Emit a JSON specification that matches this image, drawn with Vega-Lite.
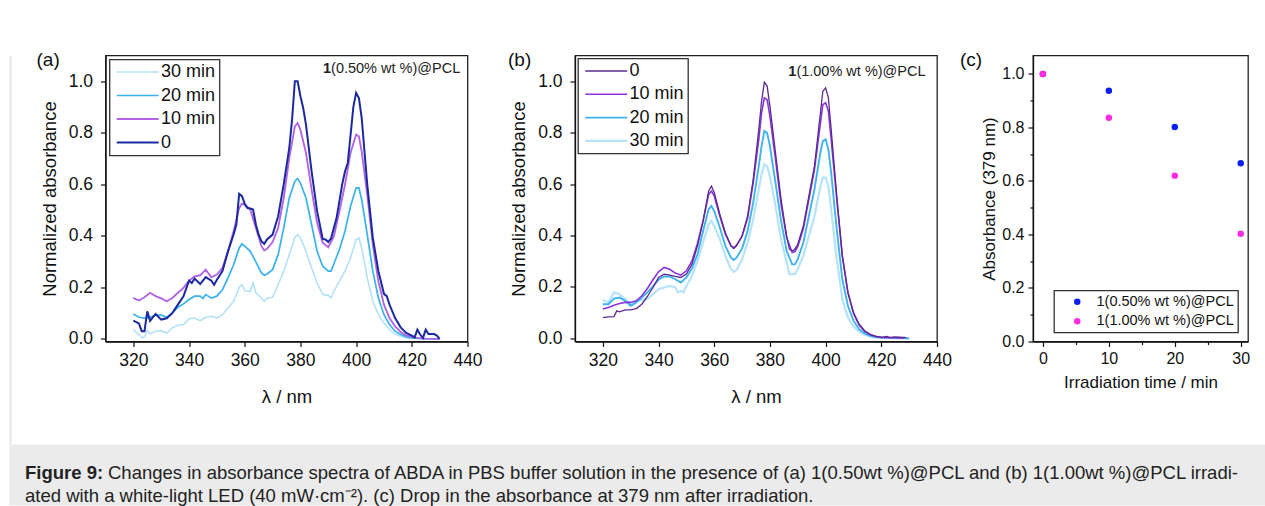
{
"$schema": "https://vega.github.io/schema/vega-lite/v6.json",
"background": "white",
"padding": {"left": 8.5, "top": 49.5, "right": 0, "bottom": 0},
"config": {
 "font": "Liberation Sans",
 "view": {"stroke": "#222", "strokeWidth": 1.3},
 "axis": {"grid": false, "domainColor": "#111", "domainWidth": 1.3, "tickColor": "#111", "tickWidth": 1.2, "labelColor": "#111", "titleColor": "#111", "labelFont": "Liberation Sans", "titleFont": "Liberation Sans", "titleFontWeight": "normal", "labelFlush": false, "labelOverlap": false},
 "title": {"fontWeight": "normal", "font": "Liberation Sans", "fontSize": 19, "color": "#111", "anchor": "start", "frame": "group"},
 "legend": {"title": null, "strokeColor": "#333", "strokeWidth": 1.3, "fillColor": "white", "labelFont": "Liberation Sans", "labelColor": "#111"}
},
"datasets": {
 "a": [
{"w":320,"t":"30 min","v":0.036},{"w":322,"t":"30 min","v":0.017},{"w":323,"t":"30 min","v":0.004},{"w":324,"t":"30 min","v":0.008},{"w":325,"t":"30 min","v":0.032},{"w":326,"t":"30 min","v":0.019},{"w":328,"t":"30 min","v":0.03},{"w":330,"t":"30 min","v":0.032},{"w":332,"t":"30 min","v":0.023},{"w":334,"t":"30 min","v":0.043},{"w":336,"t":"30 min","v":0.053},{"w":338,"t":"30 min","v":0.056},{"w":340,"t":"30 min","v":0.078},{"w":342,"t":"30 min","v":0.081},{"w":344,"t":"30 min","v":0.071},{"w":346,"t":"30 min","v":0.084},{"w":348,"t":"30 min","v":0.088},{"w":350,"t":"30 min","v":0.081},{"w":352,"t":"30 min","v":0.094},{"w":354,"t":"30 min","v":0.12},{"w":356,"t":"30 min","v":0.146},{"w":358,"t":"30 min","v":0.2},{"w":359,"t":"30 min","v":0.211},{"w":360,"t":"30 min","v":0.188},{"w":362,"t":"30 min","v":0.185},{"w":363,"t":"30 min","v":0.217},{"w":364,"t":"30 min","v":0.179},{"w":366,"t":"30 min","v":0.159},{"w":367,"t":"30 min","v":0.146},{"w":368,"t":"30 min","v":0.157},{"w":370,"t":"30 min","v":0.162},{"w":372,"t":"30 min","v":0.211},{"w":374,"t":"30 min","v":0.263},{"w":376,"t":"30 min","v":0.327},{"w":378,"t":"30 min","v":0.395},{"w":379,"t":"30 min","v":0.405},{"w":380,"t":"30 min","v":0.392},{"w":382,"t":"30 min","v":0.34},{"w":384,"t":"30 min","v":0.276},{"w":386,"t":"30 min","v":0.217},{"w":388,"t":"30 min","v":0.172},{"w":390,"t":"30 min","v":0.169},{"w":391,"t":"30 min","v":0.159},{"w":392,"t":"30 min","v":0.185},{"w":394,"t":"30 min","v":0.224},{"w":396,"t":"30 min","v":0.263},{"w":398,"t":"30 min","v":0.314},{"w":400,"t":"30 min","v":0.386},{"w":401,"t":"30 min","v":0.392},{"w":402,"t":"30 min","v":0.353},{"w":404,"t":"30 min","v":0.237},{"w":406,"t":"30 min","v":0.146},{"w":408,"t":"30 min","v":0.094},{"w":410,"t":"30 min","v":0.062},{"w":412,"t":"30 min","v":0.036},{"w":414,"t":"30 min","v":0.019},{"w":416,"t":"30 min","v":0.01},{"w":418,"t":"30 min","v":0.005},{"w":420,"t":"30 min","v":0.003},{"w":424,"t":"30 min","v":0.001},{"w":430,"t":"30 min","v":0},
{"w":320,"t":"20 min","v":0.097},{"w":322,"t":"20 min","v":0.084},{"w":324,"t":"20 min","v":0.081},{"w":326,"t":"20 min","v":0.084},{"w":328,"t":"20 min","v":0.092},{"w":330,"t":"20 min","v":0.092},{"w":332,"t":"20 min","v":0.084},{"w":334,"t":"20 min","v":0.101},{"w":336,"t":"20 min","v":0.123},{"w":338,"t":"20 min","v":0.136},{"w":340,"t":"20 min","v":0.153},{"w":342,"t":"20 min","v":0.166},{"w":344,"t":"20 min","v":0.166},{"w":345,"t":"20 min","v":0.157},{"w":346,"t":"20 min","v":0.172},{"w":348,"t":"20 min","v":0.159},{"w":350,"t":"20 min","v":0.166},{"w":352,"t":"20 min","v":0.191},{"w":354,"t":"20 min","v":0.237},{"w":356,"t":"20 min","v":0.288},{"w":358,"t":"20 min","v":0.353},{"w":359,"t":"20 min","v":0.369},{"w":360,"t":"20 min","v":0.36},{"w":362,"t":"20 min","v":0.34},{"w":364,"t":"20 min","v":0.299},{"w":366,"t":"20 min","v":0.256},{"w":367,"t":"20 min","v":0.247},{"w":368,"t":"20 min","v":0.252},{"w":370,"t":"20 min","v":0.269},{"w":372,"t":"20 min","v":0.327},{"w":374,"t":"20 min","v":0.431},{"w":376,"t":"20 min","v":0.547},{"w":378,"t":"20 min","v":0.612},{"w":379,"t":"20 min","v":0.622},{"w":380,"t":"20 min","v":0.605},{"w":382,"t":"20 min","v":0.547},{"w":384,"t":"20 min","v":0.444},{"w":386,"t":"20 min","v":0.34},{"w":388,"t":"20 min","v":0.282},{"w":390,"t":"20 min","v":0.263},{"w":391,"t":"20 min","v":0.263},{"w":392,"t":"20 min","v":0.291},{"w":394,"t":"20 min","v":0.347},{"w":396,"t":"20 min","v":0.418},{"w":398,"t":"20 min","v":0.515},{"w":400,"t":"20 min","v":0.586},{"w":401,"t":"20 min","v":0.586},{"w":402,"t":"20 min","v":0.541},{"w":404,"t":"20 min","v":0.405},{"w":406,"t":"20 min","v":0.263},{"w":408,"t":"20 min","v":0.159},{"w":410,"t":"20 min","v":0.094},{"w":412,"t":"20 min","v":0.056},{"w":414,"t":"20 min","v":0.03},{"w":416,"t":"20 min","v":0.017},{"w":418,"t":"20 min","v":0.008},{"w":420,"t":"20 min","v":0.004},{"w":424,"t":"20 min","v":0.001},{"w":430,"t":"20 min","v":0},
{"w":320,"t":"10 min","v":0.159},{"w":322,"t":"10 min","v":0.149},{"w":324,"t":"10 min","v":0.162},{"w":326,"t":"10 min","v":0.179},{"w":328,"t":"10 min","v":0.166},{"w":330,"t":"10 min","v":0.157},{"w":332,"t":"10 min","v":0.146},{"w":334,"t":"10 min","v":0.159},{"w":336,"t":"10 min","v":0.179},{"w":338,"t":"10 min","v":0.198},{"w":340,"t":"10 min","v":0.226},{"w":342,"t":"10 min","v":0.243},{"w":344,"t":"10 min","v":0.247},{"w":346,"t":"10 min","v":0.269},{"w":348,"t":"10 min","v":0.239},{"w":350,"t":"10 min","v":0.25},{"w":352,"t":"10 min","v":0.276},{"w":354,"t":"10 min","v":0.34},{"w":356,"t":"10 min","v":0.418},{"w":358,"t":"10 min","v":0.508},{"w":359,"t":"10 min","v":0.525},{"w":360,"t":"10 min","v":0.521},{"w":362,"t":"10 min","v":0.502},{"w":364,"t":"10 min","v":0.431},{"w":366,"t":"10 min","v":0.36},{"w":367,"t":"10 min","v":0.343},{"w":368,"t":"10 min","v":0.35},{"w":370,"t":"10 min","v":0.376},{"w":372,"t":"10 min","v":0.431},{"w":374,"t":"10 min","v":0.547},{"w":376,"t":"10 min","v":0.702},{"w":378,"t":"10 min","v":0.825},{"w":379,"t":"10 min","v":0.838},{"w":380,"t":"10 min","v":0.812},{"w":382,"t":"10 min","v":0.722},{"w":384,"t":"10 min","v":0.58},{"w":386,"t":"10 min","v":0.45},{"w":388,"t":"10 min","v":0.373},{"w":390,"t":"10 min","v":0.356},{"w":392,"t":"10 min","v":0.398},{"w":394,"t":"10 min","v":0.495},{"w":396,"t":"10 min","v":0.599},{"w":398,"t":"10 min","v":0.722},{"w":400,"t":"10 min","v":0.793},{"w":401,"t":"10 min","v":0.786},{"w":402,"t":"10 min","v":0.728},{"w":404,"t":"10 min","v":0.56},{"w":406,"t":"10 min","v":0.366},{"w":408,"t":"10 min","v":0.224},{"w":410,"t":"10 min","v":0.133},{"w":412,"t":"10 min","v":0.081},{"w":414,"t":"10 min","v":0.049},{"w":416,"t":"10 min","v":0.027},{"w":418,"t":"10 min","v":0.014},{"w":420,"t":"10 min","v":0.008},{"w":422,"t":"10 min","v":0.004},{"w":425,"t":"10 min","v":0.001},{"w":430,"t":"10 min","v":0},
{"w":320,"t":"0","v":0.071},{"w":322,"t":"0","v":0.06},{"w":323,"t":"0","v":0.03},{"w":324,"t":"0","v":0.03},{"w":325,"t":"0","v":0.107},{"w":326,"t":"0","v":0.07},{"w":328,"t":"0","v":0.097},{"w":330,"t":"0","v":0.075},{"w":332,"t":"0","v":0.08},{"w":334,"t":"0","v":0.1},{"w":336,"t":"0","v":0.133},{"w":338,"t":"0","v":0.165},{"w":340,"t":"0","v":0.226},{"w":341,"t":"0","v":0.217},{"w":342,"t":"0","v":0.234},{"w":344,"t":"0","v":0.213},{"w":346,"t":"0","v":0.24},{"w":348,"t":"0","v":0.226},{"w":349,"t":"0","v":0.21},{"w":350,"t":"0","v":0.23},{"w":352,"t":"0","v":0.263},{"w":354,"t":"0","v":0.34},{"w":356,"t":"0","v":0.405},{"w":357,"t":"0","v":0.444},{"w":358,"t":"0","v":0.563},{"w":359,"t":"0","v":0.554},{"w":360,"t":"0","v":0.524},{"w":361,"t":"0","v":0.508},{"w":362,"t":"0","v":0.506},{"w":363,"t":"0","v":0.502},{"w":364,"t":"0","v":0.444},{"w":365,"t":"0","v":0.405},{"w":366,"t":"0","v":0.379},{"w":367,"t":"0","v":0.369},{"w":368,"t":"0","v":0.386},{"w":370,"t":"0","v":0.405},{"w":372,"t":"0","v":0.476},{"w":374,"t":"0","v":0.6},{"w":376,"t":"0","v":0.741},{"w":377,"t":"0","v":0.851},{"w":378,"t":"0","v":1.0},{"w":379,"t":"0","v":1.0},{"w":380,"t":"0","v":0.942},{"w":381,"t":"0","v":0.896},{"w":382,"t":"0","v":0.832},{"w":384,"t":"0","v":0.651},{"w":386,"t":"0","v":0.495},{"w":388,"t":"0","v":0.388},{"w":389,"t":"0","v":0.386},{"w":390,"t":"0","v":0.376},{"w":391,"t":"0","v":0.39},{"w":392,"t":"0","v":0.43},{"w":393,"t":"0","v":0.47},{"w":394,"t":"0","v":0.535},{"w":395,"t":"0","v":0.6},{"w":396,"t":"0","v":0.65},{"w":397,"t":"0","v":0.683},{"w":398,"t":"0","v":0.79},{"w":399,"t":"0","v":0.9},{"w":400,"t":"0","v":0.955},{"w":401,"t":"0","v":0.935},{"w":402,"t":"0","v":0.858},{"w":404,"t":"0","v":0.599},{"w":406,"t":"0","v":0.392},{"w":408,"t":"0","v":0.263},{"w":410,"t":"0","v":0.175},{"w":411,"t":"0","v":0.166},{"w":412,"t":"0","v":0.133},{"w":414,"t":"0","v":0.081},{"w":416,"t":"0","v":0.045},{"w":418,"t":"0","v":0.023},{"w":420,"t":"0","v":0.013},{"w":421,"t":"0","v":0.006},{"w":422,"t":"0","v":0.036},{"w":423,"t":"0","v":0.017},{"w":424,"t":"0","v":0.004},{"w":425,"t":"0","v":0.036},{"w":426,"t":"0","v":0.019},{"w":428,"t":"0","v":0.019},{"w":429,"t":"0","v":0.013},{"w":430,"t":"0","v":0.0}
 ],
 "b": [
{"w":320,"t":"30 min","v":0.15},{"w":322,"t":"30 min","v":0.14},{"w":324,"t":"30 min","v":0.179},{"w":326,"t":"30 min","v":0.172},{"w":328,"t":"30 min","v":0.153},{"w":330,"t":"30 min","v":0.133},{"w":332,"t":"30 min","v":0.146},{"w":334,"t":"30 min","v":0.15},{"w":336,"t":"30 min","v":0.153},{"w":338,"t":"30 min","v":0.172},{"w":340,"t":"30 min","v":0.191},{"w":342,"t":"30 min","v":0.198},{"w":344,"t":"30 min","v":0.204},{"w":346,"t":"30 min","v":0.198},{"w":347,"t":"30 min","v":0.179},{"w":348,"t":"30 min","v":0.185},{"w":349,"t":"30 min","v":0.179},{"w":350,"t":"30 min","v":0.204},{"w":352,"t":"30 min","v":0.243},{"w":354,"t":"30 min","v":0.301},{"w":356,"t":"30 min","v":0.373},{"w":358,"t":"30 min","v":0.444},{"w":359,"t":"30 min","v":0.457},{"w":360,"t":"30 min","v":0.437},{"w":362,"t":"30 min","v":0.386},{"w":364,"t":"30 min","v":0.321},{"w":366,"t":"30 min","v":0.269},{"w":367,"t":"30 min","v":0.259},{"w":368,"t":"30 min","v":0.266},{"w":370,"t":"30 min","v":0.308},{"w":372,"t":"30 min","v":0.373},{"w":374,"t":"30 min","v":0.463},{"w":376,"t":"30 min","v":0.58},{"w":377,"t":"30 min","v":0.638},{"w":378,"t":"30 min","v":0.677},{"w":379,"t":"30 min","v":0.67},{"w":380,"t":"30 min","v":0.631},{"w":382,"t":"30 min","v":0.515},{"w":384,"t":"30 min","v":0.386},{"w":386,"t":"30 min","v":0.295},{"w":387,"t":"30 min","v":0.25},{"w":388,"t":"30 min","v":0.25},{"w":389,"t":"30 min","v":0.25},{"w":390,"t":"30 min","v":0.269},{"w":392,"t":"30 min","v":0.321},{"w":394,"t":"30 min","v":0.398},{"w":396,"t":"30 min","v":0.476},{"w":398,"t":"30 min","v":0.586},{"w":399,"t":"30 min","v":0.625},{"w":400,"t":"30 min","v":0.625},{"w":401,"t":"30 min","v":0.592},{"w":402,"t":"30 min","v":0.502},{"w":404,"t":"30 min","v":0.308},{"w":406,"t":"30 min","v":0.153},{"w":408,"t":"30 min","v":0.081},{"w":410,"t":"30 min","v":0.047},{"w":412,"t":"30 min","v":0.026},{"w":414,"t":"30 min","v":0.014},{"w":416,"t":"30 min","v":0.008},{"w":418,"t":"30 min","v":0.004},{"w":420,"t":"30 min","v":0.003},{"w":425,"t":"30 min","v":0.001},{"w":430,"t":"30 min","v":0},
{"w":320,"t":"20 min","v":0.133},{"w":322,"t":"20 min","v":0.133},{"w":324,"t":"20 min","v":0.155},{"w":326,"t":"20 min","v":0.159},{"w":328,"t":"20 min","v":0.146},{"w":330,"t":"20 min","v":0.127},{"w":332,"t":"20 min","v":0.14},{"w":334,"t":"20 min","v":0.159},{"w":336,"t":"20 min","v":0.179},{"w":338,"t":"20 min","v":0.202},{"w":340,"t":"20 min","v":0.228},{"w":342,"t":"20 min","v":0.241},{"w":344,"t":"20 min","v":0.241},{"w":346,"t":"20 min","v":0.23},{"w":348,"t":"20 min","v":0.217},{"w":350,"t":"20 min","v":0.237},{"w":352,"t":"20 min","v":0.272},{"w":354,"t":"20 min","v":0.327},{"w":356,"t":"20 min","v":0.418},{"w":358,"t":"20 min","v":0.502},{"w":359,"t":"20 min","v":0.515},{"w":360,"t":"20 min","v":0.495},{"w":362,"t":"20 min","v":0.431},{"w":364,"t":"20 min","v":0.36},{"w":366,"t":"20 min","v":0.314},{"w":367,"t":"20 min","v":0.305},{"w":368,"t":"20 min","v":0.314},{"w":370,"t":"20 min","v":0.349},{"w":372,"t":"20 min","v":0.418},{"w":374,"t":"20 min","v":0.528},{"w":376,"t":"20 min","v":0.67},{"w":377,"t":"20 min","v":0.748},{"w":378,"t":"20 min","v":0.806},{"w":379,"t":"20 min","v":0.799},{"w":380,"t":"20 min","v":0.748},{"w":382,"t":"20 min","v":0.605},{"w":384,"t":"20 min","v":0.457},{"w":386,"t":"20 min","v":0.34},{"w":388,"t":"20 min","v":0.288},{"w":389,"t":"20 min","v":0.288},{"w":390,"t":"20 min","v":0.308},{"w":392,"t":"20 min","v":0.373},{"w":394,"t":"20 min","v":0.476},{"w":396,"t":"20 min","v":0.58},{"w":398,"t":"20 min","v":0.715},{"w":399,"t":"20 min","v":0.767},{"w":400,"t":"20 min","v":0.774},{"w":401,"t":"20 min","v":0.735},{"w":402,"t":"20 min","v":0.644},{"w":404,"t":"20 min","v":0.424},{"w":406,"t":"20 min","v":0.23},{"w":408,"t":"20 min","v":0.127},{"w":410,"t":"20 min","v":0.069},{"w":412,"t":"20 min","v":0.036},{"w":414,"t":"20 min","v":0.019},{"w":416,"t":"20 min","v":0.01},{"w":418,"t":"20 min","v":0.005},{"w":420,"t":"20 min","v":0.003},{"w":426,"t":"20 min","v":0.001},{"w":430,"t":"20 min","v":0},
{"w":320,"t":"10 min","v":0.114},{"w":322,"t":"10 min","v":0.12},{"w":324,"t":"10 min","v":0.129},{"w":326,"t":"10 min","v":0.136},{"w":328,"t":"10 min","v":0.14},{"w":330,"t":"10 min","v":0.14},{"w":332,"t":"10 min","v":0.146},{"w":334,"t":"10 min","v":0.166},{"w":336,"t":"10 min","v":0.194},{"w":338,"t":"10 min","v":0.228},{"w":340,"t":"10 min","v":0.259},{"w":342,"t":"10 min","v":0.276},{"w":344,"t":"10 min","v":0.269},{"w":346,"t":"10 min","v":0.254},{"w":348,"t":"10 min","v":0.246},{"w":350,"t":"10 min","v":0.263},{"w":352,"t":"10 min","v":0.301},{"w":354,"t":"10 min","v":0.37},{"w":356,"t":"10 min","v":0.457},{"w":358,"t":"10 min","v":0.56},{"w":359,"t":"10 min","v":0.573},{"w":360,"t":"10 min","v":0.554},{"w":362,"t":"10 min","v":0.476},{"w":364,"t":"10 min","v":0.405},{"w":366,"t":"10 min","v":0.36},{"w":367,"t":"10 min","v":0.353},{"w":368,"t":"10 min","v":0.362},{"w":370,"t":"10 min","v":0.398},{"w":372,"t":"10 min","v":0.469},{"w":374,"t":"10 min","v":0.605},{"w":376,"t":"10 min","v":0.774},{"w":377,"t":"10 min","v":0.877},{"w":378,"t":"10 min","v":0.935},{"w":379,"t":"10 min","v":0.928},{"w":380,"t":"10 min","v":0.864},{"w":382,"t":"10 min","v":0.696},{"w":384,"t":"10 min","v":0.521},{"w":386,"t":"10 min","v":0.392},{"w":388,"t":"10 min","v":0.334},{"w":389,"t":"10 min","v":0.338},{"w":390,"t":"10 min","v":0.357},{"w":392,"t":"10 min","v":0.427},{"w":394,"t":"10 min","v":0.541},{"w":396,"t":"10 min","v":0.657},{"w":398,"t":"10 min","v":0.825},{"w":399,"t":"10 min","v":0.909},{"w":400,"t":"10 min","v":0.916},{"w":401,"t":"10 min","v":0.884},{"w":402,"t":"10 min","v":0.774},{"w":404,"t":"10 min","v":0.541},{"w":406,"t":"10 min","v":0.321},{"w":408,"t":"10 min","v":0.179},{"w":410,"t":"10 min","v":0.098},{"w":412,"t":"10 min","v":0.052},{"w":414,"t":"10 min","v":0.027},{"w":416,"t":"10 min","v":0.014},{"w":418,"t":"10 min","v":0.008},{"w":420,"t":"10 min","v":0.004},{"w":424,"t":"10 min","v":0.003},{"w":428,"t":"10 min","v":0.001},
{"w":320,"t":"0","v":0.081},{"w":322,"t":"0","v":0.084},{"w":324,"t":"0","v":0.085},{"w":325,"t":"0","v":0.107},{"w":326,"t":"0","v":0.103},{"w":328,"t":"0","v":0.111},{"w":330,"t":"0","v":0.111},{"w":332,"t":"0","v":0.116},{"w":334,"t":"0","v":0.133},{"w":336,"t":"0","v":0.163},{"w":338,"t":"0","v":0.198},{"w":340,"t":"0","v":0.237},{"w":342,"t":"0","v":0.25},{"w":344,"t":"0","v":0.246},{"w":346,"t":"0","v":0.241},{"w":348,"t":"0","v":0.237},{"w":350,"t":"0","v":0.25},{"w":352,"t":"0","v":0.288},{"w":354,"t":"0","v":0.36},{"w":356,"t":"0","v":0.457},{"w":358,"t":"0","v":0.573},{"w":359,"t":"0","v":0.592},{"w":360,"t":"0","v":0.567},{"w":362,"t":"0","v":0.483},{"w":364,"t":"0","v":0.411},{"w":366,"t":"0","v":0.36},{"w":367,"t":"0","v":0.349},{"w":368,"t":"0","v":0.36},{"w":370,"t":"0","v":0.398},{"w":372,"t":"0","v":0.476},{"w":374,"t":"0","v":0.618},{"w":376,"t":"0","v":0.812},{"w":377,"t":"0","v":0.922},{"w":378,"t":"0","v":0.996},{"w":379,"t":"0","v":0.981},{"w":380,"t":"0","v":0.903},{"w":382,"t":"0","v":0.722},{"w":384,"t":"0","v":0.541},{"w":386,"t":"0","v":0.398},{"w":387,"t":"0","v":0.347},{"w":388,"t":"0","v":0.34},{"w":389,"t":"0","v":0.347},{"w":390,"t":"0","v":0.366},{"w":392,"t":"0","v":0.437},{"w":394,"t":"0","v":0.554},{"w":396,"t":"0","v":0.67},{"w":398,"t":"0","v":0.864},{"w":399,"t":"0","v":0.961},{"w":400,"t":"0","v":0.974},{"w":401,"t":"0","v":0.935},{"w":402,"t":"0","v":0.812},{"w":404,"t":"0","v":0.554},{"w":406,"t":"0","v":0.321},{"w":408,"t":"0","v":0.179},{"w":410,"t":"0","v":0.101},{"w":412,"t":"0","v":0.056},{"w":414,"t":"0","v":0.03},{"w":416,"t":"0","v":0.016},{"w":418,"t":"0","v":0.008},{"w":420,"t":"0","v":0.004},{"w":422,"t":"0","v":0.008},{"w":423,"t":"0","v":0.003},{"w":425,"t":"0","v":0.006},{"w":428,"t":"0","v":0.004},{"w":429,"t":"0","v":0.003}
 ],
 "c": [
{"m":0,"s":"1(0.50% wt %)@PCL","v":1.0},{"m":10,"s":"1(0.50% wt %)@PCL","v":0.937},{"m":20,"s":"1(0.50% wt %)@PCL","v":0.802},{"m":30,"s":"1(0.50% wt %)@PCL","v":0.666},
{"m":0,"s":"1(1.00% wt %)@PCL","v":1.0},{"m":10,"s":"1(1.00% wt %)@PCL","v":0.836},{"m":20,"s":"1(1.00% wt %)@PCL","v":0.62},{"m":30,"s":"1(1.00% wt %)@PCL","v":0.403}
 ]
},
"vconcat": [
 {"hconcat": [
  {"width": 1, "height": 388, "view": {"stroke": "#e2e2e2", "strokeWidth": 1, "fill": null},
   "data": {"values": []}, "mark": {"type": "rule"}, "encoding": {}},
  {"hconcat": [
   {"width": 362, "height": 286,
    "title": {"text": "(a)", "dx": -69, "offset": -14},
    "layer": [
     {"data": {"name": "a"}, "mark": {"type": "line"},
      "encoding": {
       "x": {"field": "w", "type": "quantitative", "scale": {"domain": [310, 440], "nice": false, "zero": false},
         "axis": {"values": [320,330,340,350,360,370,380,390,400,410,420,430,440], "labelExpr": "datum.value % 20 === 0 ? datum.label : ''", "tickSize": {"condition": {"test": "datum.value % 20 === 0", "value": 5}, "value": 3}, "title": "λ / nm", "labelFontSize": 17.5, "titleFontSize": 18.5, "labelPadding": 5, "titlePadding": 18}},
       "y": {"field": "v", "type": "quantitative", "scale": {"domain": [-0.01, 1.1], "nice": false, "zero": false},
         "axis": {"values": [0,0.1,0.2,0.3,0.4,0.5,0.6,0.7,0.8,0.9,1.0], "format": ".1f", "labelExpr": "round(datum.value*10) % 2 === 0 ? datum.label : ''", "tickSize": {"condition": {"test": "round(datum.value*10) % 2 === 0", "value": 5}, "value": 3}, "title": "Normalized absorbance", "labelFontSize": 17.5, "titleFontSize": 18.5, "labelPadding": 8, "titlePadding": 9}},
       "color": {"field": "t", "type": "ordinal", "scale": {"domain": ["30 min", "20 min", "10 min", "0"], "range": ["#b4e1f7", "#3db2ee", "#b163e6", "#1b2a9e"]},
         "legend": {"orient": "top-left", "offset": 4, "padding": 3.5, "symbolType": "M-1,0H7", "symbolSize": 110, "labelFontSize": 18, "labelOffset": 30, "rowPadding": 5.5}},
       "strokeWidth": {"field": "t", "type": "ordinal", "scale": {"domain": ["30 min", "20 min", "10 min", "0"], "range": [1.6, 2, 1.3, 2]},
         "legend": {"orient": "top-left", "offset": 4, "padding": 3.5, "symbolType": "M-1,0H7", "symbolSize": 110, "labelFontSize": 18, "labelOffset": 30, "rowPadding": 5.5}}
      }},
     {"data": {"values": [{"k": "1", "r": "(0.50% wt %)@PCL"}]}, "mark": {"type": "text", "align": "right", "baseline": "middle", "fontWeight": "bold", "fontSize": 14.5, "color": "#222"},
      "encoding": {"x": {"datum": 391}, "y": {"datum": 1.049}, "text": {"field": "k"}}},
     {"data": {"values": [{"k": "1", "r": "(0.50% wt %)@PCL"}]}, "mark": {"type": "text", "align": "left", "baseline": "middle", "fontSize": 14.5, "color": "#222"},
      "encoding": {"x": {"datum": 391}, "y": {"datum": 1.049}, "text": {"field": "r"}}}
    ]
   },
   {"hconcat": [
    {"width": 362, "height": 286,
     "title": {"text": "(b)", "dx": -67, "offset": -14},
     "layer": [
      {"data": {"name": "b"}, "mark": {"type": "line"},
       "encoding": {
        "x": {"field": "w", "type": "quantitative", "scale": {"domain": [310, 440], "nice": false, "zero": false},
          "axis": {"values": [320,330,340,350,360,370,380,390,400,410,420,430,440], "labelExpr": "datum.value % 20 === 0 ? datum.label : ''", "tickSize": {"condition": {"test": "datum.value % 20 === 0", "value": 5}, "value": 3}, "title": "λ / nm", "labelFontSize": 17.5, "titleFontSize": 18.5, "labelPadding": 5, "titlePadding": 18}},
        "y": {"field": "v", "type": "quantitative", "scale": {"domain": [-0.012, 1.1], "nice": false, "zero": false},
          "axis": {"values": [0,0.1,0.2,0.3,0.4,0.5,0.6,0.7,0.8,0.9,1.0], "format": ".1f", "labelExpr": "round(datum.value*10) % 2 === 0 ? datum.label : ''", "tickSize": {"condition": {"test": "round(datum.value*10) % 2 === 0", "value": 5}, "value": 3}, "title": "Normalized absorbance", "labelFontSize": 17.5, "titleFontSize": 18.5, "labelPadding": 8, "titlePadding": 9}},
        "color": {"field": "t", "type": "ordinal", "scale": {"domain": ["0", "10 min", "20 min", "30 min"], "range": ["#5b2a8e", "#8a33dd", "#3fb3ef", "#b6e3f8"]},
          "legend": {"orient": "top-left", "offset": 3, "padding": 3.5, "symbolType": "M-1,0H7", "symbolSize": 110, "labelFontSize": 18, "labelOffset": 30, "rowPadding": 5.3}},
        "strokeWidth": {"field": "t", "type": "ordinal", "scale": {"domain": ["0", "10 min", "20 min", "30 min"], "range": [1.3, 2.2, 2, 1.5]},
          "legend": {"orient": "top-left", "offset": 3, "padding": 3.5, "symbolType": "M-1,0H7", "symbolSize": 110, "labelFontSize": 18, "labelOffset": 30, "rowPadding": 5.3}}
       }},
      {"data": {"values": [{"k": "1", "r": "(1.00% wt %)@PCL"}]}, "mark": {"type": "text", "align": "right", "baseline": "middle", "fontWeight": "bold", "fontSize": 14.5, "color": "#222"},
       "encoding": {"x": {"datum": 389.5}, "y": {"datum": 1.037}, "text": {"field": "k"}}},
      {"data": {"values": [{"k": "1", "r": "(1.00% wt %)@PCL"}]}, "mark": {"type": "text", "align": "left", "baseline": "middle", "fontSize": 14.5, "color": "#222"},
       "encoding": {"x": {"datum": 389.5}, "y": {"datum": 1.037}, "text": {"field": "r"}}}
     ]
    },
    {"width": 215, "height": 286,
     "title": {"text": "(c)", "dx": -73, "offset": -14},
     "data": {"name": "c"},
     "mark": {"type": "circle", "size": 42, "opacity": 1},
     "encoding": {
      "x": {"field": "m", "type": "quantitative", "scale": {"domain": [-1.5, 31.1], "nice": false, "zero": false},
        "axis": {"values": [0,5,10,15,20,25,30], "labelExpr": "datum.value % 10 === 0 ? datum.label : ''", "tickSize": {"condition": {"test": "datum.value % 10 === 0", "value": 5}, "value": 3}, "title": "Irradiation time / min", "labelFontSize": 16, "titleFontSize": 17, "labelPadding": 4, "titlePadding": 8}},
      "y": {"field": "v", "type": "quantitative", "scale": {"domain": [0, 1.069], "nice": false, "zero": false},
        "axis": {"values": [0,0.1,0.2,0.3,0.4,0.5,0.6,0.7,0.8,0.9,1.0], "format": ".1f", "labelExpr": "round(datum.value*10) % 2 === 0 ? datum.label : ''", "tickSize": {"condition": {"test": "round(datum.value*10) % 2 === 0", "value": 5}, "value": 3}, "title": "Absorbance (379 nm)", "labelFontSize": 16, "titleFontSize": 17, "labelPadding": 4, "titlePadding": 3}},
      "color": {"field": "s", "type": "nominal", "scale": {"domain": ["1(0.50% wt %)@PCL", "1(1.00% wt %)@PCL"], "range": ["#0a1ff2", "#ff2ae4"]},
        "legend": {"orient": "none", "legendX": 21, "legendY": 235, "padding": 4, "symbolOffset": 12, "symbolSize": 42, "symbolType": "circle", "labelFontSize": 14.5, "labelOffset": 12, "rowPadding": 4.5}}
     }
    }
   ], "spacing": 6, "resolve": {"scale": {"color": "independent", "strokeWidth": "independent"}}}
  ], "spacing": 23.5, "resolve": {"scale": {"color": "independent", "strokeWidth": "independent"}}}
 ], "spacing": 24, "resolve": {"scale": {"color": "independent", "strokeWidth": "independent"}}},
 {"width": 1256, "height": 61,
  "view": {"fill": "#ebebeb", "stroke": null},
  "data": {"values": [
   {"line": 1, "part": "head", "text": "Figure 9:"},
   {"line": 1, "part": "body", "text": "Changes in absorbance spectra of ABDA in PBS buffer solution in the presence of (a) 1(0.50wt %)@PCL and (b) 1(1.00wt %)@PCL irradi-"},
   {"line": 2, "part": "body2", "text": "ated with a white-light LED (40 mW·cm⁻²). (c) Drop in the absorbance at 379 nm after irradiation."}
  ]},
  "encoding": {
   "y": {"field": "line", "type": "quantitative", "scale": {"domain": [-0.2667, 2.444], "reverse": true, "nice": false, "zero": false}, "axis": null},
   "text": {"field": "text"}
  },
  "layer": [
   {"transform": [{"filter": "datum.part === 'head'"}], "mark": {"type": "text", "align": "left", "baseline": "middle", "fontWeight": "bold", "fontSize": 18.5, "color": "#222", "x": 15.5}},
   {"transform": [{"filter": "datum.part === 'body'"}], "mark": {"type": "text", "align": "left", "baseline": "middle", "fontSize": 18.5, "color": "#222", "x": 15.5, "dx": 83}},
   {"transform": [{"filter": "datum.part === 'body2'"}], "mark": {"type": "text", "align": "left", "baseline": "middle", "fontSize": 18.5, "color": "#222", "x": 15.5}}
  ]
 }
],
"spacing": 0
}
